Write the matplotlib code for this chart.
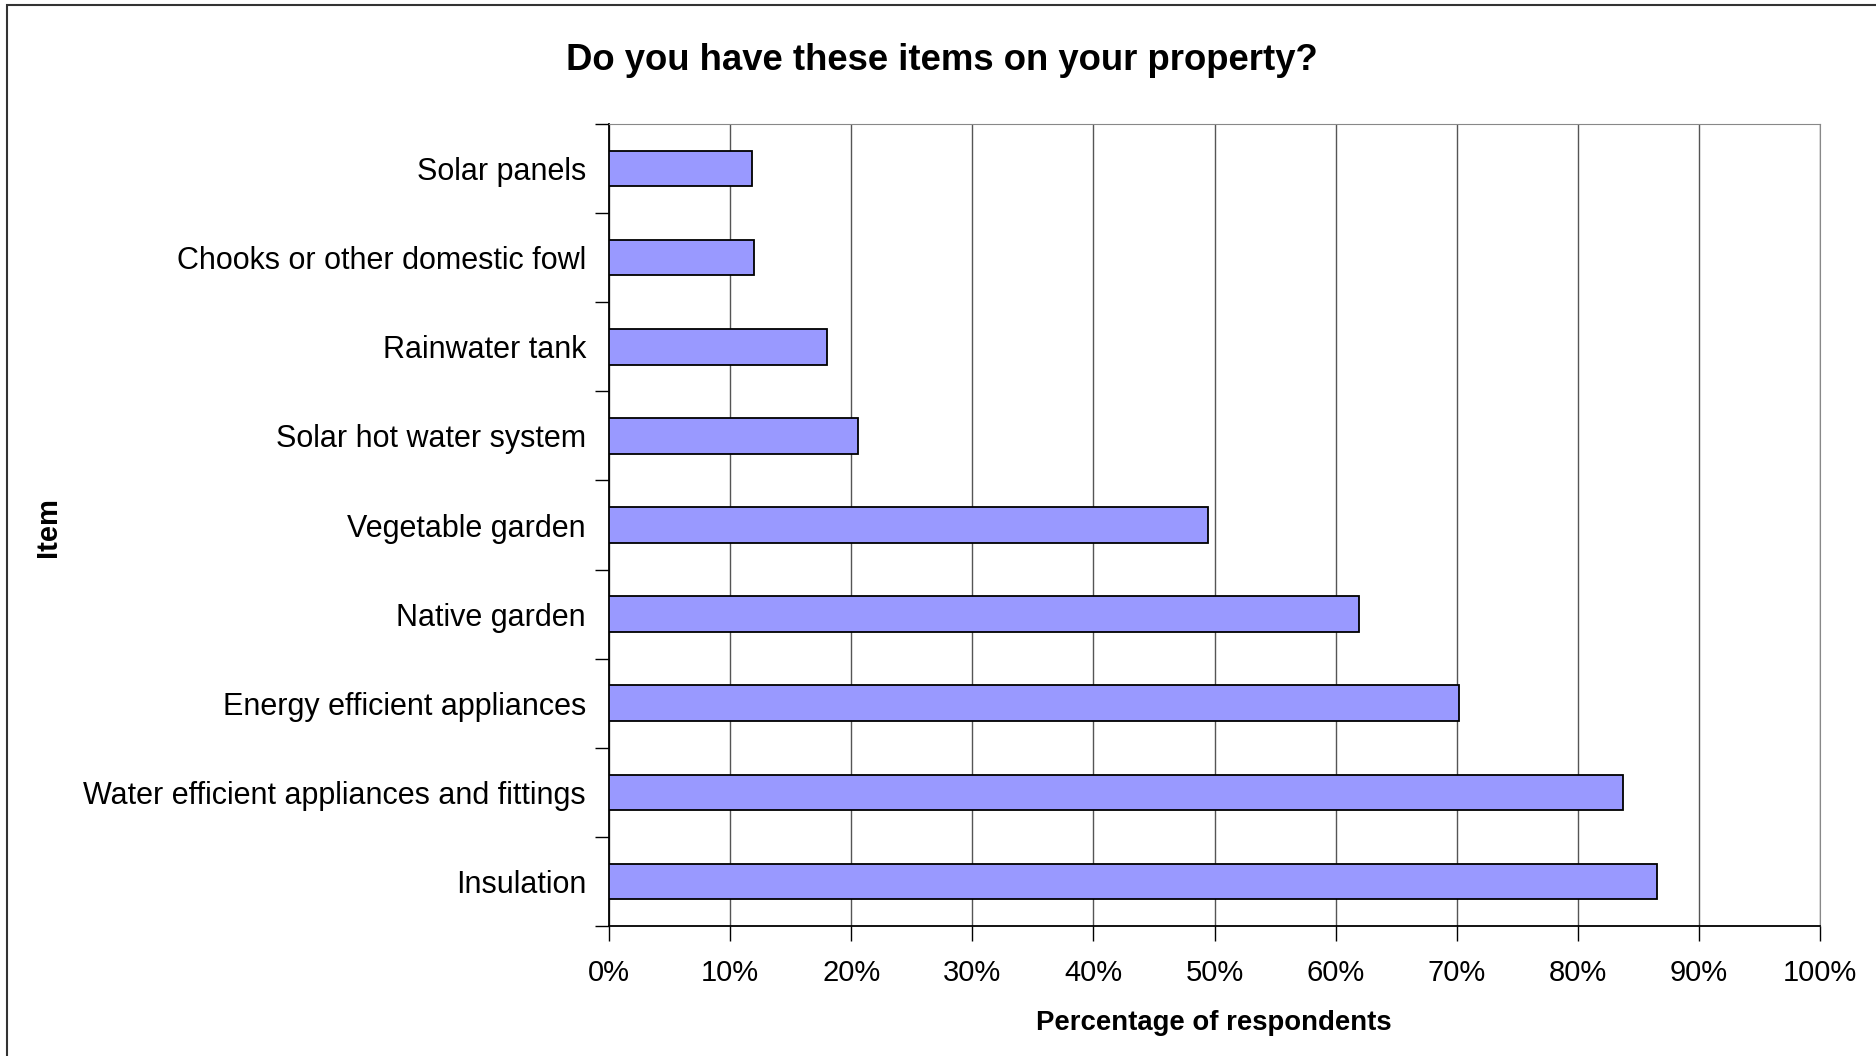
import matplotlib
matplotlib.use("Agg")
import matplotlib.pyplot as plt
from matplotlib.patches import Rectangle
from matplotlib.ticker import FixedLocator, PercentFormatter

plt.rcParams["font.family"] = ["Liberation Sans", "DejaVu Sans"]

# items, bottom to top as drawn
items = ["Insulation", "Water efficient appliances and fittings",
         "Energy efficient appliances", "Native garden", "Vegetable garden",
         "Solar hot water system", "Rainwater tank",
         "Chooks or other domestic fowl", "Solar panels"]
pct = [86.5, 83.7, 70.2, 61.9, 49.5, 20.6, 18.0, 12.0, 11.8]
xticks = [0, 10, 20, 30, 40, 50, 60, 70, 80, 90, 100]

fig = plt.figure(figsize=(18.76, 10.56), dpi=100)
ax = fig.add_axes([609 / 1876, 1 - 926 / 1056, 1211 / 1876, 802 / 1056])

ypos = list(range(len(items)))
ax.barh(ypos, pct, height=0.4, color="#9999FF", edgecolor="black",
        linewidth=1.3, zorder=3)

ax.set_xlim(0, 100)
ax.set_ylim(-0.5, len(items) - 0.5)
ax.set_xticks(xticks)
ax.xaxis.set_major_formatter(PercentFormatter(decimals=0))
ax.grid(axis="x", color="#555555", linewidth=1.0, zorder=0)

# y ticks at category boundaries, labels at centres
ax.yaxis.set_major_locator(FixedLocator([i - 0.5 for i in range(len(items) + 1)]))
ax.yaxis.set_major_formatter(plt.NullFormatter())
ax.yaxis.set_minor_locator(FixedLocator(ypos))
ax.set_yticklabels(items, minor=True)
ax.tick_params(axis="y", which="major", length=10, width=1.0, direction="out")
ax.tick_params(axis="y", which="minor", length=0, pad=16.5, labelsize=22)
ax.tick_params(axis="x", length=11, width=1.0, direction="out", pad=13, labelsize=21)

for s in ["top", "right"]:
    ax.spines[s].set_color("#888888")
for s in ["left", "bottom"]:
    ax.spines[s].set_color("black")
    ax.spines[s].set_linewidth(1.3)

fig.text(942 / 1876, 1 - 60 / 1056, "Do you have these items on your property?",
         ha="center", va="center", fontsize=26.3, fontweight="bold")
fig.text(1214 / 1876, 1 - 1023 / 1056, "Percentage of respondents",
         ha="center", va="center", fontsize=19.8, fontweight="bold")
fig.text(48 / 1876, 1 - 527 / 1056, "Item", ha="center", va="center",
         rotation=90, fontsize=21, fontweight="bold")

# outer chart frame (right/bottom edges fall outside the image)
fig.patches.append(Rectangle((7 / 1876, -0.05), 1.2, 1 - 5 / 1056 + 0.05,
                             transform=fig.transFigure, fill=False,
                             edgecolor="#333333", linewidth=1.5))

fig.savefig("out.png", dpi=100, facecolor="white")
